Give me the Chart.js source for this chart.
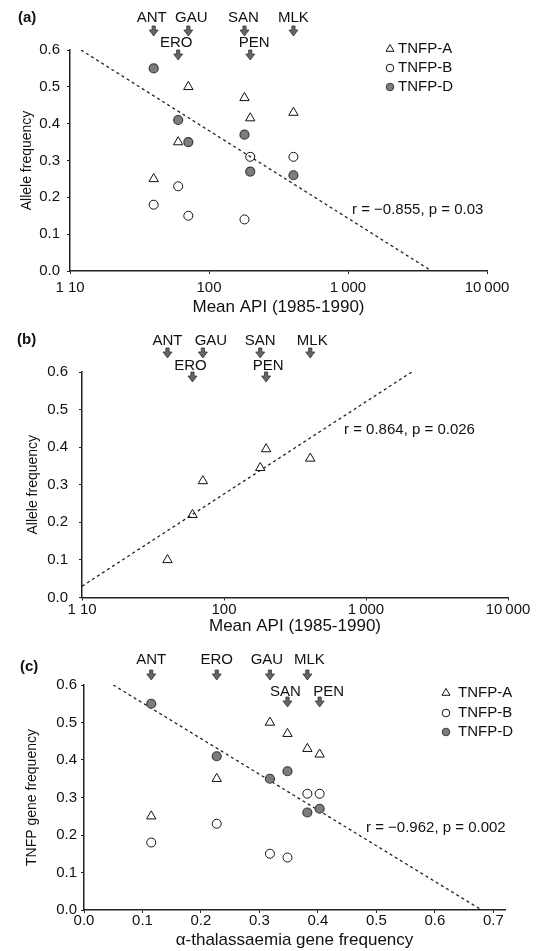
<!DOCTYPE html>
<html><head><meta charset="utf-8">
<script src="https://cdn.jsdelivr.net/npm/chart.js@4.4.1/dist/chart.umd.min.js"></script>
<style>
html,body{margin:0;padding:0;background:#fff;}
#wrap{position:relative;width:544px;height:951px;overflow:hidden;background:#fff;}
canvas{position:absolute;left:0;}
</style></head><body>
<div id="wrap">
<canvas id="ca" width="544" height="318" style="top:0px;width:544px;height:318px"></canvas>
<canvas id="cb" width="544" height="322" style="top:318px;width:544px;height:322px"></canvas>
<canvas id="cc" width="544" height="311" style="top:640px;width:544px;height:311px"></canvas>
</div>
<script>
// ---------- data ----------
const sites = ['ANT', 'ERO', 'GAU', 'SAN', 'PEN', 'MLK'];
const meanAPI = [40, 60, 71, 180, 198, 405];
const alphaThal = [0.115, 0.227, 0.318, 0.348, 0.403, 0.382];
const tnfpA = [0.25, 0.35, 0.50, 0.47, 0.415, 0.43];
const tnfpB = [0.18, 0.23, 0.15, 0.14, 0.31, 0.31];
const tnfpD = [0.55, 0.41, 0.35, 0.37, 0.27, 0.26];
const panelBFreq = [0.10, 0.22, 0.31, 0.345, 0.395, 0.37];
const trendA_x = [12, 4000];
const trendA_y = [0.60, 0.0];
const trendB_x = [10, 2200];
const trendB_y = [0.03, 0.605];
const trendC_x = [0.05, 0.68];
const trendC_y = [0.60, 0.0];
const yTicks = [0, 0.1, 0.2, 0.3, 0.4, 0.5, 0.6];
const apiTicks = [10, 100, 1000, 10000];
const apiTickLabels = ['1 10', '100', '1\u2009000', '10\u2009000'];
const thalTicks = [0, 0.1, 0.2, 0.3, 0.4, 0.5, 0.6, 0.7];
const seriesNames = ['TNFP-A', 'TNFP-B', 'TNFP-D'];
const rLabels = ['r = \u22120.855, p = 0.03', 'r = 0.864, p = 0.026', 'r = \u22120.962, p = 0.002'];

// ---------- helpers ----------
const FAM = '"Liberation Sans", Arial, Helvetica, sans-serif';
Chart.defaults.font.family = FAM;
Chart.defaults.color = '#111';

function pts(xs, ys) { return xs.map((x, i) => ({ x: x, y: ys[i] })); }

function drawArrow(ctx, x, y) {
  ctx.save();
  ctx.fillStyle = '#666';
  ctx.strokeStyle = '#333';
  ctx.lineWidth = 0.8;
  ctx.beginPath();
  ctx.moveTo(x - 1.6, y - 5);
  ctx.lineTo(x + 1.6, y - 5);
  ctx.lineTo(x + 1.6, y - 1);
  ctx.lineTo(x + 4.5, y - 1);
  ctx.lineTo(x, y + 5);
  ctx.lineTo(x - 4.5, y - 1);
  ctx.lineTo(x - 1.6, y - 1);
  ctx.closePath();
  ctx.fill();
  ctx.stroke();
  ctx.restore();
}

function legendMarker(ctx, kind, x, y) {
  ctx.save();
  ctx.lineWidth = 1;
  ctx.strokeStyle = '#111';
  ctx.beginPath();
  if (kind === 0) {
    const r = 4.6;
    ctx.moveTo(x, y - r);
    ctx.lineTo(x + r * 0.866, y + r / 2);
    ctx.lineTo(x - r * 0.866, y + r / 2);
    ctx.closePath();
    ctx.stroke();
  } else if (kind === 1) {
    ctx.arc(x, y, 3.8, 0, Math.PI * 2);
    ctx.stroke();
  } else {
    ctx.arc(x, y, 3.8, 0, Math.PI * 2);
    ctx.fillStyle = '#7d7d7d';
    ctx.fill();
    ctx.strokeStyle = '#3a3a3a';
    ctx.stroke();
  }
  ctx.restore();
}

function decor(cfg) {
  return {
    id: 'decor',
    afterDraw(chart) {
      const ctx = chart.ctx, ca = chart.chartArea, xs = chart.scales.x;
      ctx.save();
      ctx.fillStyle = '#111';
      ctx.textBaseline = 'middle';
      ctx.textAlign = 'left';
      ctx.font = 'bold 15px ' + FAM;
      ctx.fillText(cfg.letter, cfg.letterX, cfg.letterY);
      ctx.font = '15px ' + FAM;
      ctx.textAlign = 'center';
      sites.forEach((s, i) => {
        const px = xs.getPixelForValue(cfg.siteX[i]);
        const r = cfg.rows[i];
        ctx.fillStyle = '#111';
        ctx.fillText(s, px + cfg.textDx[i], ca.top + cfg.textRows[r]);
        drawArrow(ctx, px, ca.top + cfg.arrowRows[r]);
      });
      if (cfg.legend) {
        ctx.textAlign = 'left';
        seriesNames.forEach((n, k) => {
          const yy = cfg.legend.y[k];
          legendMarker(ctx, k, cfg.legend.mx, yy);
          ctx.fillStyle = '#111';
          ctx.fillText(n, cfg.legend.tx, yy);
        });
      }
      ctx.textAlign = 'left';
      ctx.fillStyle = '#111';
      ctx.fillText(cfg.rText, cfg.rX, cfg.rY);
      ctx.restore();
    }
  };
}

const styleA = { pointStyle: 'triangle', pointRadius: 5.4, backgroundColor: 'rgba(0,0,0,0)', borderColor: '#111', borderWidth: 1 };
const styleB = { pointStyle: 'circle', pointRadius: 4.5, backgroundColor: 'rgba(0,0,0,0)', borderColor: '#111', borderWidth: 1 };
const styleD = { pointStyle: 'circle', pointRadius: 4.5, backgroundColor: '#7d7d7d', borderColor: '#3a3a3a', borderWidth: 1.2 };
const styleT = { showLine: true, pointRadius: 0, borderColor: '#222', borderWidth: 1.3, borderDash: [3, 3], fill: false };

function axisY(H, left, titleText, titlePad, tickPad) {
  return {
    type: 'linear', min: 0, max: 0.6,
    afterBuildTicks: s => { s.ticks = yTicks.map(v => ({ value: v })); },
    afterFit: s => { s.width = left; },
    ticks: { callback: v => Number(v).toFixed(1), font: { size: 15 }, color: '#111', padding: tickPad },
    grid: { display: true, drawOnChartArea: false, drawTicks: true, tickLength: 3, color: '#222' },
    border: { display: true, color: '#222', width: 1.5 },
    title: { display: true, text: titleText, font: { size: 14 }, color: '#111', padding: { top: titlePad, bottom: 0 } }
  };
}

function makeChart(id, H, area, datasets, xScale, yScale, plugin) {
  return new Chart(document.getElementById(id), {
    type: 'scatter',
    data: { datasets: datasets },
    options: {
      responsive: false, animation: false, devicePixelRatio: 1,
      layout: { padding: { left: 0, top: area.top, right: 544 - area.right, bottom: 0 } },
      plugins: { legend: { display: false }, tooltip: { enabled: false } },
      scales: { x: xScale, y: yScale }
    },
    plugins: [plugin]
  });
}

// ---------- panel (a) ----------
(function () {
  const H = 318, area = { left: 70, right: 487, top: 50, bottom: 271 };
  const x = {
    type: 'logarithmic', min: 10, max: 10000,
    afterBuildTicks: s => { s.ticks = apiTicks.map(v => ({ value: v })); },
    afterFit: s => { s.height = H - area.bottom; },
    ticks: { callback: (v, i) => apiTickLabels[i], font: { size: 15 }, color: '#111', padding: 5, autoSkip: false, maxRotation: 0 },
    grid: { display: true, drawOnChartArea: false, drawTicks: true, tickLength: 3, color: '#222' },
    border: { display: true, color: '#222', width: 1.5 },
    title: { display: true, text: 'Mean API (1985-1990)', font: { size: 17 }, color: '#111', padding: { top: 0, bottom: 0.8 } }
  };
  const y = axisY(H, area.left, 'Allele frequency', 18.6, 7);
  makeChart('ca', H, area, [
    Object.assign({ label: seriesNames[0], data: pts(meanAPI, tnfpA) }, styleA),
    Object.assign({ label: seriesNames[1], data: pts(meanAPI, tnfpB) }, styleB),
    Object.assign({ label: seriesNames[2], data: pts(meanAPI, tnfpD) }, styleD),
    Object.assign({ label: 'trend', data: pts(trendA_x, trendA_y) }, styleT)
  ], x, y, decor({
    letter: '(a)', letterX: 18, letterY: 18,
    siteX: meanAPI, rows: [0, 1, 0, 0, 1, 0], textRows: [-32, -7], arrowRows: [-19, 5],
    textDx: [-2, -2, 3, -1, 4, 0],
    legend: { mx: 390, tx: 398, y: [49, 68, 87] },
    rText: rLabels[0], rX: 352, rY: 210
  }));
})();

// ---------- panel (b) ----------
(function () {
  const H = 322, area = { left: 82, right: 508, top: 54, bottom: 279.5 };
  const x = {
    type: 'logarithmic', min: 10, max: 10000,
    afterBuildTicks: s => { s.ticks = apiTicks.map(v => ({ value: v })); },
    afterFit: s => { s.height = H - area.bottom; },
    ticks: { callback: (v, i) => apiTickLabels[i], font: { size: 15 }, color: '#111', padding: 0, autoSkip: false, maxRotation: 0 },
    grid: { display: true, drawOnChartArea: false, drawTicks: true, tickLength: 3, color: '#222' },
    border: { display: true, color: '#222', width: 1.5 },
    title: { display: true, text: 'Mean API (1985-1990)', font: { size: 17 }, color: '#111', padding: { top: 0, bottom: 3.8 } }
  };
  const y = axisY(H, area.left, 'Allele frequency', 24.6, 11);
  makeChart('cb', H, area, [
    Object.assign({ label: 'Allele frequency', data: pts(meanAPI, panelBFreq) }, styleA),
    Object.assign({ label: 'trend', data: pts(trendB_x, trendB_y) }, styleT)
  ], x, y, decor({
    letter: '(b)', letterX: 17, letterY: 22,
    siteX: meanAPI, rows: [0, 1, 0, 0, 1, 0], textRows: [-31, -6], arrowRows: [-19, 5],
    textDx: [0, -2, 8, 0, 2, 2],
    legend: null,
    rText: rLabels[1], rX: 344, rY: 112
  }));
})();

// ---------- panel (c) ----------
(function () {
  const H = 311, area = { left: 84, right: 505, top: 45, bottom: 270 };
  const x = {
    type: 'linear', min: 0, max: 0.72,
    afterBuildTicks: s => { s.ticks = thalTicks.map(v => ({ value: v })); },
    afterFit: s => { s.height = H - area.bottom; },
    ticks: { callback: v => Number(v).toFixed(1), font: { size: 15 }, color: '#111', padding: -1, autoSkip: false, maxRotation: 0 },
    grid: { display: true, drawOnChartArea: false, drawTicks: true, tickLength: 3, color: '#222' },
    border: { display: true, color: '#222', width: 1.5 },
    title: { display: true, text: '\u03b1-thalassaemia gene frequency', font: { size: 17 }, color: '#111', padding: { top: 0, bottom: 0.8 } }
  };
  const y = axisY(H, area.left, 'TNFP gene frequency', 23.6, 4);
  makeChart('cc', H, area, [
    Object.assign({ label: seriesNames[0], data: pts(alphaThal, tnfpA) }, styleA),
    Object.assign({ label: seriesNames[1], data: pts(alphaThal, tnfpB) }, styleB),
    Object.assign({ label: seriesNames[2], data: pts(alphaThal, tnfpD) }, styleD),
    Object.assign({ label: 'trend', data: pts(trendC_x, trendC_y) }, styleT)
  ], x, y, decor({
    letter: '(c)', letterX: 20, letterY: 27,
    siteX: alphaThal, rows: [0, 0, 0, 1, 1, 0], textRows: [-25, 7], arrowRows: [-10, 17],
    textDx: [0, 0, -3, -2, 9, 2],
    legend: { mx: 446, tx: 458, y: [53, 73, 92] },
    rText: rLabels[2], rX: 366, rY: 188
  }));
})();
</script>
</body></html>
